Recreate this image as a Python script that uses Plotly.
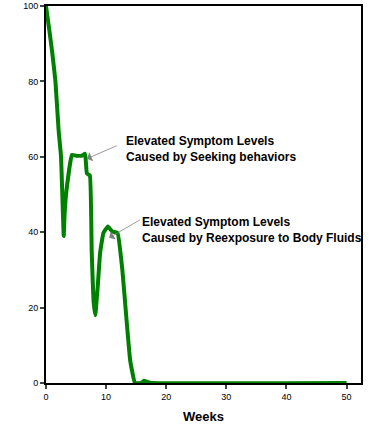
import plotly.graph_objects as go

weeks = [0, 0.6, 1.05, 1.57, 2.1, 2.5, 2.95, 3.1, 3.4, 4.3, 5, 6, 6.5, 6.8, 7.3, 7.6, 7.9, 8.2, 8.6, 9.0, 9.55, 10.3, 11, 11.9, 12.7, 13.4, 14, 14.8, 15.8, 16.3, 17, 17.5, 50]
level = [100, 93, 87.5, 80, 67, 60, 39, 45, 51, 60.5, 60.3, 60.3, 60.8, 55.6, 55, 35, 22, 18, 25.5, 34.5, 39.8, 41.5, 40.2, 39.8, 30, 16.7, 6, 0, 0, 0.6, 0.2, 0, 0]

x_ticks = [0, 10, 20, 30, 40, 50]
y_ticks = [0, 20, 40, 60, 80, 100]

notes = [
    {"text": "Elevated Symptom Levels<br>Caused by Seeking behaviors", "x": 6.8, "y": 59.5, "tx": 124, "ty": 149, "ax": 118, "ay": 145},
    {"text": "Elevated Symptom Levels<br>Caused by Reexposure to Body Fluids", "x": 10.5, "y": 38.5, "tx": 140, "ty": 230, "ax": 141, "ay": 219},
]

fig = go.Figure()
fig.add_trace(go.Scatter(x=weeks, y=level, mode="lines",
                         line=dict(color="#008000", width=4, shape="spline", smoothing=0.3),
                         hoverinfo="skip", showlegend=False))

L, T = 45.5, 6
W, H = 378, 424
xr = [0, 52.4]
yr = [0, 100]
pw = W - L - 17
ph = 383 - T

for n in notes:
    fig.add_annotation(x=n["x"], y=n["y"], xref="x", yref="y",
                       ax=(n["ax"] - L) / pw * (xr[1] - xr[0]) + xr[0],
                       ay=(1 - (n["ay"] - T) / ph) * (yr[1] - yr[0]) + yr[0],
                       axref="x", ayref="y", text="", showarrow=True,
                       arrowhead=1, arrowsize=2, arrowwidth=0.8, arrowcolor="#808080")
    fig.add_annotation(x=(n["tx"] - L) / pw * (xr[1] - xr[0]) + xr[0],
                       y=(1 - (n["ty"] - T) / ph) * (yr[1] - yr[0]) + yr[0],
                       xref="x", yref="y", text="<b>" + n["text"] + "</b>",
                       showarrow=False, xanchor="left", yanchor="middle", align="left",
                       font=dict(family="Liberation Sans, Arial", size=12, color="black"))

fig.update_layout(
    width=W, height=H,
    margin=dict(l=L, r=17, t=T, b=41),
    paper_bgcolor="white", plot_bgcolor="white",
    font=dict(family="Liberation Sans, Arial", size=9, color="black"),
    xaxis=dict(range=xr, tickvals=x_ticks, ticks="outside", ticklen=4, tickwidth=2,
               showline=True, linewidth=2, linecolor="black", mirror=True,
               showgrid=False, zeroline=False, automargin=False,
               title=dict(text="<b>Weeks</b>", font=dict(size=13), standoff=12)),
    yaxis=dict(range=yr, tickvals=y_ticks, ticks="outside", ticklen=4, tickwidth=2,
               showline=True, linewidth=2, linecolor="black", mirror=True,
               showgrid=False, zeroline=False, automargin=False),
)

fig.write_html("out.html", config={"displayModeBar": False},
               post_script="document.body.style.margin='0';")
